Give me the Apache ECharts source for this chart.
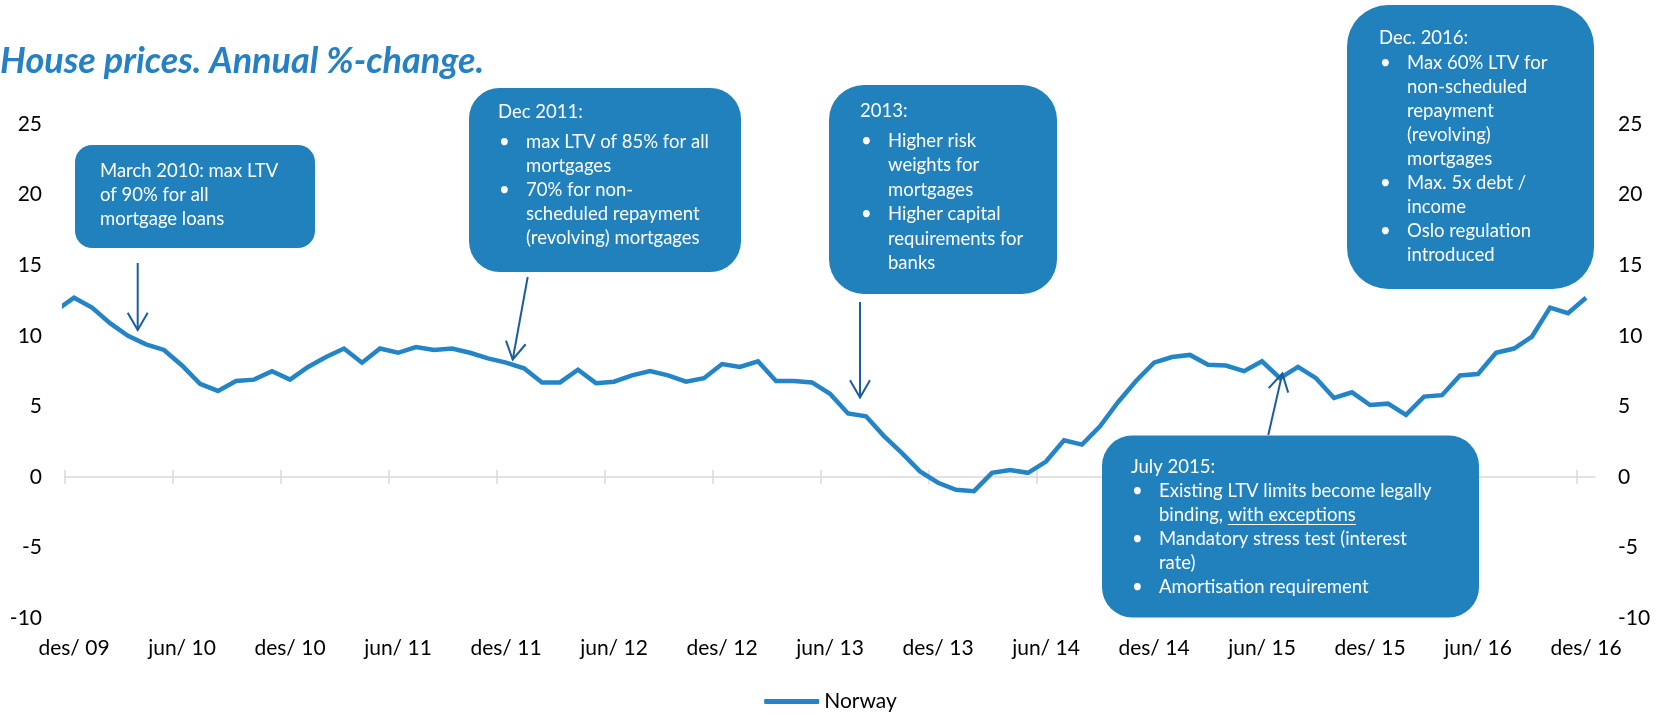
<!DOCTYPE html>
<html>
<head>
<meta charset="utf-8">
<script src="https://cdn.jsdelivr.net/npm/echarts@6/dist/echarts.min.js"></script>
<style>
  html, body { margin: 0; padding: 0; background: #ffffff; }
  #chart { width: 1661px; height: 715px; }
</style>
</head>
<body>
<div id="chart"></div>
<script>
// House prices, Norway: annual % change, monthly from nov/09 to des/16
const months = [
  'nov/ 09', 'des/ 09',
  'jan/ 10', 'feb/ 10', 'mar/ 10', 'apr/ 10', 'mai/ 10', 'jun/ 10', 'jul/ 10', 'aug/ 10', 'sep/ 10', 'okt/ 10', 'nov/ 10', 'des/ 10',
  'jan/ 11', 'feb/ 11', 'mar/ 11', 'apr/ 11', 'mai/ 11', 'jun/ 11', 'jul/ 11', 'aug/ 11', 'sep/ 11', 'okt/ 11', 'nov/ 11', 'des/ 11',
  'jan/ 12', 'feb/ 12', 'mar/ 12', 'apr/ 12', 'mai/ 12', 'jun/ 12', 'jul/ 12', 'aug/ 12', 'sep/ 12', 'okt/ 12', 'nov/ 12', 'des/ 12',
  'jan/ 13', 'feb/ 13', 'mar/ 13', 'apr/ 13', 'mai/ 13', 'jun/ 13', 'jul/ 13', 'aug/ 13', 'sep/ 13', 'okt/ 13', 'nov/ 13', 'des/ 13',
  'jan/ 14', 'feb/ 14', 'mar/ 14', 'apr/ 14', 'mai/ 14', 'jun/ 14', 'jul/ 14', 'aug/ 14', 'sep/ 14', 'okt/ 14', 'nov/ 14', 'des/ 14',
  'jan/ 15', 'feb/ 15', 'mar/ 15', 'apr/ 15', 'mai/ 15', 'jun/ 15', 'jul/ 15', 'aug/ 15', 'sep/ 15', 'okt/ 15', 'nov/ 15', 'des/ 15',
  'jan/ 16', 'feb/ 16', 'mar/ 16', 'apr/ 16', 'mai/ 16', 'jun/ 16', 'jul/ 16', 'aug/ 16', 'sep/ 16', 'okt/ 16', 'nov/ 16', 'des/ 16'
];

const norway = [
  11.8, 12.7,
  12.0, 10.9, 10.0, 9.4, 9.0, 7.9, 6.6, 6.1, 6.8, 6.9, 7.5, 6.9,
  7.8, 8.5, 9.1, 8.1, 9.1, 8.8, 9.2, 9.0, 9.1, 8.8, 8.4, 8.1,
  7.7, 6.7, 6.7, 7.6, 6.65, 6.75, 7.2, 7.5, 7.2, 6.75, 7.0, 8.0,
  7.8, 8.2, 6.8, 6.8, 6.7, 5.9, 4.5, 4.3, 2.9, 1.7, 0.4, -0.4,
  -0.9, -1.0, 0.3, 0.5, 0.3, 1.1, 2.6, 2.3, 3.6, 5.3, 6.8, 8.1,
  8.5, 8.65, 7.95, 7.9, 7.5, 8.2, 7.0, 7.8, 7.0, 5.6, 6.0, 5.1,
  5.2, 4.4, 5.7, 5.8, 7.2, 7.3, 8.8, 9.1, 9.95, 12.0, 11.6, 12.7
];

// Axis labels shown every sixth month, starting at des/ 09
const tickLabels = ['des/ 09', 'jun/ 10', 'des/ 10', 'jun/ 11', 'des/ 11', 'jun/ 12', 'des/ 12',
  'jun/ 13', 'des/ 13', 'jun/ 14', 'des/ 14', 'jun/ 15', 'des/ 15', 'jun/ 16', 'des/ 16'];

const yMin = -10, yMax = 25, yStep = 5;

// ---- layout / styling ----
const FONT = 'Lato, "Noto Sans", sans-serif';
const LINE_BLUE = '#2384c6';
const BOX_BLUE = '#2181bc';
const ARROW_BLUE = '#1b5d9f';
const AXIS_GREY = '#d9d9d9';

// x is counted in months from the start of des/ 09; each monthly value sits mid-month
const firstMonthOffset = -1;               // nov/ 09 lies one month before des/ 09
const seriesData = norway.map((v, i) => [i + firstMonthOffset + 0.5, v]);
const tickValues = tickLabels.map((_, k) => k * 6);
const labelValues = tickLabels.map((_, k) => k * 6 + 0.5);
const xMax = 85;

const measureCtx = document.createElement('canvas').getContext('2d');
function textWidth(str, font) { measureCtx.font = font; return measureCtx.measureText(str).width; }

const BOX_FONT = '18.5px ' + FONT;

// Annotation boxes: rounded rectangles with white text lines
const boxes = [
  { x: 75, y: 145, w: 240, h: 103, tx: 100, lines: [
    { t: 'March 2010: max LTV', y: 171.5 },
    { t: 'of 90% for all', y: 195.5 },
    { t: 'mortgage loans', y: 219.5 } ] },
  { x: 469, y: 88, w: 272, h: 184, tx: 498, lines: [
    { t: 'Dec 2011:', y: 112 },
    { t: 'max LTV of 85% for all', y: 142, b: true },
    { t: 'mortgages', y: 166, i: true },
    { t: '70% for non-', y: 190.5, b: true },
    { t: 'scheduled repayment', y: 214.5, i: true },
    { t: '(revolving) mortgages', y: 238.5, i: true } ] },
  { x: 829, y: 85, w: 228, h: 209, tx: 860, lines: [
    { t: '2013:', y: 111 },
    { t: 'Higher risk', y: 141, b: true },
    { t: 'weights for', y: 165.5, i: true },
    { t: 'mortgages', y: 190, i: true },
    { t: 'Higher capital', y: 214.5, b: true },
    { t: 'requirements for', y: 239, i: true },
    { t: 'banks', y: 263, i: true } ] },
  { x: 1347, y: 5, w: 247, h: 284, tx: 1379, lines: [
    { t: 'Dec. 2016:', y: 38 },
    { t: 'Max 60% LTV for', y: 63.5, b: true },
    { t: 'non-scheduled', y: 87.5, i: true },
    { t: 'repayment', y: 111, i: true },
    { t: '(revolving)', y: 135, i: true },
    { t: 'mortgages', y: 159, i: true },
    { t: 'Max. 5x debt /', y: 183, b: true },
    { t: 'income', y: 207, i: true },
    { t: 'Oslo regulation', y: 231, b: true },
    { t: 'introduced', y: 255, i: true } ] },
  { x: 1102, y: 435.5, w: 377, h: 182, tx: 1131, lines: [
    { t: 'July 2015:', y: 467 },
    { t: 'Existing LTV limits become legally', y: 491.5, b: true },
    { t: 'binding, ', y: 515.5, i: true, u: 'with exceptions' },
    { t: 'Mandatory stress test (interest', y: 539.5, b: true },
    { t: 'rate)', y: 563.5, i: true },
    { t: 'Amortisation requirement', y: 587.5, b: true } ] }
];

// Arrows pointing from the boxes to the line: [x1, y1, x2 (tip), y2 (tip)]
const arrows = [
  [137.7, 263, 137.7, 330],
  [527.7, 277, 512.7, 359.5],
  [860, 302, 860, 397.5],
  [1268.3, 435, 1282.3, 373.5]
];

const graphics = [];

boxes.forEach(bx => {
  const r = Math.min(bx.w, bx.h) * 0.1667;
  graphics.push({ type: 'rect', shape: { x: bx.x, y: bx.y, width: bx.w, height: bx.h, r: r },
    style: { fill: BOX_BLUE }, z: 10 });
  bx.lines.forEach(ln => {
    const indent = (ln.b || ln.i) ? 28 : 0;
    if (ln.b) {
      graphics.push({ type: 'text', x: bx.tx + 1, y: ln.y, z: 11,
        style: { text: '\u2022', font: BOX_FONT, fill: '#ffffff', verticalAlign: 'middle' } });
    }
    graphics.push({ type: 'text', x: bx.tx + indent, y: ln.y, z: 11,
      style: { text: ln.t, font: BOX_FONT, fill: '#ffffff', verticalAlign: 'middle' } });
    if (ln.u) {
      const ux = bx.tx + indent + textWidth(ln.t, BOX_FONT);
      const uw = textWidth(ln.u, BOX_FONT);
      graphics.push({ type: 'text', x: ux, y: ln.y, z: 11,
        style: { text: ln.u, font: BOX_FONT, fill: '#ffffff', verticalAlign: 'middle' } });
      graphics.push({ type: 'line', z: 11,
        shape: { x1: ux, y1: ln.y + 9, x2: ux + uw, y2: ln.y + 9 },
        style: { stroke: '#ffffff', lineWidth: 1 } });
    }
  });
});

arrows.forEach(([x1, y1, x2, y2]) => {
  const ang = Math.atan2(y2 - y1, x2 - x1);
  const L = 20, spread = Math.PI / 6;
  const w1 = [x2 - L * Math.cos(ang - spread), y2 - L * Math.sin(ang - spread)];
  const w2 = [x2 - L * Math.cos(ang + spread), y2 - L * Math.sin(ang + spread)];
  graphics.push({ type: 'line', z: 12, shape: { x1, y1, x2, y2 },
    style: { stroke: ARROW_BLUE, lineWidth: 2 } });
  graphics.push({ type: 'polyline', z: 12, shape: { points: [w1, [x2, y2], w2] },
    style: { stroke: ARROW_BLUE, lineWidth: 2, fill: null } });
});

// Title, slightly cut off at the left edge
const TITLE_FONT = 'italic bold 36px ' + FONT;
const titleText = 'House prices. Annual %-change.';
graphics.push({ type: 'text', x: 484 - textWidth(titleText, TITLE_FONT), y: 61.5, z: 12,
  style: { text: titleText, font: TITLE_FONT, fill: '#2581c4', verticalAlign: 'middle' } });

const labelStyle = { fontFamily: FONT, fontSize: 21, color: '#000000' };

const valueAxisBase = {
  type: 'value', min: 0, max: xMax,
  splitLine: { show: false },
  axisLabel: { show: false }
};

const option = {
  animation: false,
  backgroundColor: '#ffffff',
  grid: { left: 65, right: 66, top: 124, bottom: 96.7, containLabel: false },
  legend: {
    data: ['Norway'],
    top: 686, left: 'center', padding: 5,
    icon: 'roundRect', itemWidth: 55, itemHeight: 5, itemGap: 10,
    textStyle: Object.assign({ lineHeight: 21 }, labelStyle)
  },
  xAxis: [
    Object.assign({}, valueAxisBase, {
      position: 'bottom',
      axisLine: { show: true, onZero: true, lineStyle: { color: AXIS_GREY, width: 1.5 } },
      axisTick: { show: true, inside: false, length: 7, customValues: tickValues,
        lineStyle: { color: AXIS_GREY, width: 1.5 } }
    }),
    Object.assign({}, valueAxisBase, {
      position: 'bottom',
      axisLine: { show: false, onZero: true },
      axisTick: { show: true, inside: true, length: 7, customValues: tickValues,
        lineStyle: { color: AXIS_GREY, width: 1.5 } }
    }),
    Object.assign({}, valueAxisBase, {
      position: 'bottom',
      axisLine: { show: false, onZero: false },
      axisTick: { show: false },
      axisLabel: Object.assign({ show: true, margin: 19, customValues: labelValues,
        formatter: v => tickLabels[Math.round((v - 0.5) / 6)] }, labelStyle)
    })
  ],
  yAxis: [
    { type: 'value', position: 'left', min: yMin, max: yMax, interval: yStep,
      axisLine: { show: false }, axisTick: { show: false }, splitLine: { show: false },
      axisLabel: Object.assign({ margin: 23 }, labelStyle) },
    { type: 'value', position: 'right', min: yMin, max: yMax, interval: yStep,
      axisLine: { show: false }, axisTick: { show: false }, splitLine: { show: false },
      axisLabel: Object.assign({ margin: 23 }, labelStyle) }
  ],
  series: [{
    name: 'Norway', type: 'line', xAxisIndex: 0, yAxisIndex: 0,
    data: seriesData, showSymbol: false, symbol: 'none', clip: true,
    itemStyle: { color: LINE_BLUE },
    lineStyle: { color: LINE_BLUE, width: 4.5, join: 'miter' },
    emphasis: { disabled: true }, z: 5
  }],
  graphic: { elements: graphics }
};

const chart = echarts.init(document.getElementById('chart'), null, { renderer: 'canvas' });
chart.setOption(option);
</script>
</body>
</html>
